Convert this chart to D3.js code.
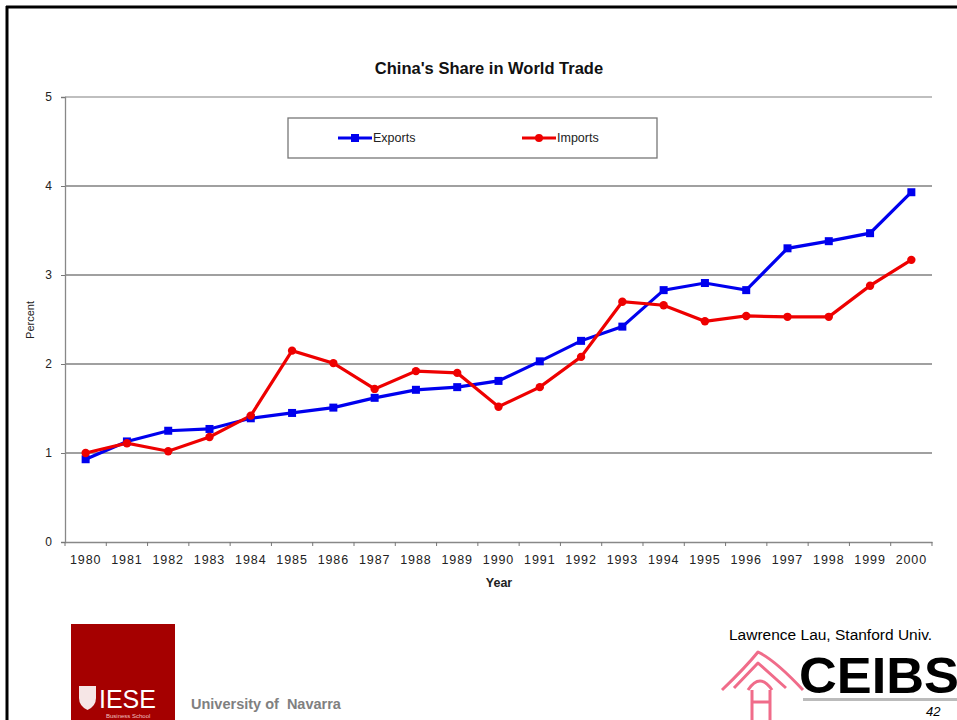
<!DOCTYPE html>
<html>
<head>
<meta charset="utf-8">
<script src="https://cdnjs.cloudflare.com/ajax/libs/d3/7.8.5/d3.min.js"></script>
<style>
  body { margin: 0; background: #fff; }
  text { font-family: Arial, "Liberation Sans", sans-serif; }
</style>
</head>
<body>
<div id="chart"></div>
<script>
// Data

var years = ["1980","1981","1982","1983","1984","1985","1986","1987","1988","1989","1990",
             "1991","1992","1993","1994","1995","1996","1997","1998","1999","2000"];

var exports = [0.93,1.13,1.25,1.27,1.39,1.45,1.51,1.62,1.71,1.74,1.81,
               2.03,2.26,2.42,2.83,2.91,2.83,3.30,3.38,3.47,3.93];

var imports = [1.00,1.11,1.02,1.18,1.42,2.15,2.01,1.72,1.92,1.90,1.52,
               1.74,2.08,2.70,2.66,2.48,2.54,2.53,2.53,2.88,3.17];

var yTicks = [0,1,2,3,4,5];

var W = 957, H = 720;

var svg = d3.select("#chart").append("svg")
  .attr("width",W).attr("height",H);

svg.append("rect").attr("width",W).attr("height",H).attr("fill","white");

// slide frame
svg.append("line").attr("x1",7).attr("x2",7).attr("y1",6).attr("y2",H)
  .style("stroke","black").style("stroke-width",3);
svg.append("line").attr("x1",6).attr("x2",W).attr("y1",7).attr("y2",7)
  .style("stroke","black").style("stroke-width",3);

// Scales

var x = d3.scaleBand().domain(years).range([65,932]);
var y = d3.scaleLinear().domain([0,5]).range([542,97]);

// gridlines
svg.selectAll(".grid").data(yTicks.filter(function(d){return d>0})).enter().append("line")
  .attr("class","grid")
  .attr("x1",65).attr("x2",932)
  .attr("y1",function(d){return y(d)}).attr("y2",function(d){return y(d)})
  .style("stroke",function(d){return d==5 ? "#aaa" : "#808080"}).style("stroke-width",1.3);

// axes
var yAxis = svg.append("g").attr("transform","translate(65,0)")
  .call(d3.axisLeft(y).tickValues(yTicks).tickFormat(d3.format("d")).tickSize(4).tickPadding(9));
var xAxis = svg.append("g").attr("transform","translate(0,542)")
  .call(d3.axisBottom(x).tickSize(0).tickPadding(13));

xAxis.selectAll(".tick").append("line")
  .attr("x1",function(){return x.bandwidth()/2}).attr("x2",function(){return x.bandwidth()/2})
  .attr("y1",0).attr("y2",4).style("stroke","#777");
xAxis.append("line").attr("x1",65).attr("x2",65).attr("y1",0).attr("y2",4).style("stroke","#777");

[yAxis,xAxis].forEach(function(a){
  a.select(".domain").style("stroke","#888").style("stroke-width",1.3);
  a.selectAll(".tick line").style("stroke","#777");
  a.selectAll("text").style("fill","#222")
    .style("font-family","Arial, 'Liberation Sans', sans-serif");
});
xAxis.selectAll("text").style("font-size","12.5px").style("letter-spacing","0.9px");
yAxis.selectAll("text").style("font-size","12px");

// titles
svg.append("text").attr("x",489).attr("y",74).attr("text-anchor","middle")
  .style("font-size","16.5px").style("font-weight","bold").style("fill","#111").text("China's Share in World Trade");
svg.append("text").attr("x",499).attr("y",587).attr("text-anchor","middle")
  .style("font-size","12.5px").style("font-weight","bold").style("fill","#222").text("Year");
svg.append("text").attr("transform","translate(34,320)rotate(-90)").attr("text-anchor","middle")
  .style("font-size","11px").style("fill","#222").text("Percent");

// Lines

var line = d3.line()
  .x(function(d,i){return x(years[i])+x.bandwidth()/2})
  .y(function(d){return y(d)});

svg.append("path").datum(exports).attr("d",line)
  .style("fill","none").style("stroke","#0000ee").style("stroke-width",3.2);
svg.append("path").datum(imports).attr("d",line)
  .style("fill","none").style("stroke","#ee0000").style("stroke-width",3.2);

svg.selectAll(".exp").data(exports).enter().append("rect")
  .attr("class","exp")
  .attr("x",function(d,i){return x(years[i])+x.bandwidth()/2-4})
  .attr("y",function(d){return y(d)-4})
  .attr("width",8).attr("height",8).style("fill","#0000ee");
svg.selectAll(".imp").data(imports).enter().append("circle")
  .attr("class","imp")
  .attr("cx",function(d,i){return x(years[i])+x.bandwidth()/2})
  .attr("cy",function(d){return y(d)})
  .attr("r",4.2).style("fill","#ee0000");

// Legend

var legend = svg.append("g");
legend.append("rect").attr("x",288).attr("y",118).attr("width",369).attr("height",40)
  .style("fill","white").style("stroke","#777").style("stroke-width",1.3);

var legItems = [{name:"Exports",color:"#0000ee",sym:"rect",x:338},
                {name:"Imports",color:"#ee0000",sym:"circle",x:522}];
legItems.forEach(function(it){
  legend.append("line").attr("x1",it.x).attr("x2",it.x+34).attr("y1",138).attr("y2",138)
    .style("stroke",it.color).style("stroke-width",3);
  if(it.sym=="rect"){
    legend.append("rect").attr("x",it.x+13).attr("y",134).attr("width",8).attr("height",8).style("fill",it.color);
  } else {
    legend.append("circle").attr("cx",it.x+17).attr("cy",138).attr("r",4).style("fill",it.color);
  }
  legend.append("text").attr("x",it.x+35).attr("y",142)
    .style("font-size","12.5px").style("fill","#222").text(it.name);
});

// Footer: IESE logo

svg.append("rect").attr("x",71).attr("y",624).attr("width",104).attr("height",96).style("fill","#a50000");
svg.append("path").attr("d","M79,686 h17 v12 q0,8 -8.5,12 q-8.5,-4 -8.5,-12 z")
  .style("fill","white").style("opacity",0.9);
svg.append("text").attr("x",99).attr("y",708).style("font-size","25px").style("fill","white")
  .style("font-family","'Liberation Sans Narrow', Arial, sans-serif").text("IESE");
svg.append("text").attr("x",106).attr("y",718).style("font-size","6px").style("fill","#f0c0c0").text("Business School");

svg.append("text").attr("x",191).attr("y",709).style("font-size","14.5px").style("font-weight","bold")
  .style("fill","#808080").style("white-space","pre").text("University of  Navarra");

// Footer: right side

svg.append("text").attr("x",729).attr("y",640).style("font-size","15.5px").text("Lawrence Lau, Stanford Univ.");

var ceibs = svg.append("g");
ceibs.append("path").attr("d","M722,690 Q745,668 758,652 Q775,660 803,690 M734,688 L758,663 L786,688 M748,690 q12,-18 24,0 M752,690 v30 M770,690 v30 M752,702 h18")
  .style("fill","none").style("stroke","#f06c8a").style("stroke-width",3).style("stroke-linejoin","round");
ceibs.append("text").attr("x",799).attr("y",693).attr("textLength",160).attr("lengthAdjust","spacingAndGlyphs")
  .style("font-size","50px").style("font-weight","900")
  .style("font-family","'Liberation Sans', Arial, sans-serif").text("CEIBS");
ceibs.append("rect").attr("x",803).attr("y",698).attr("width",154).attr("height",3).style("fill","#bbb");
svg.append("text").attr("x",926).attr("y",716).style("font-size","13px").style("font-style","italic").text("42");
</script>
</body>
</html>
